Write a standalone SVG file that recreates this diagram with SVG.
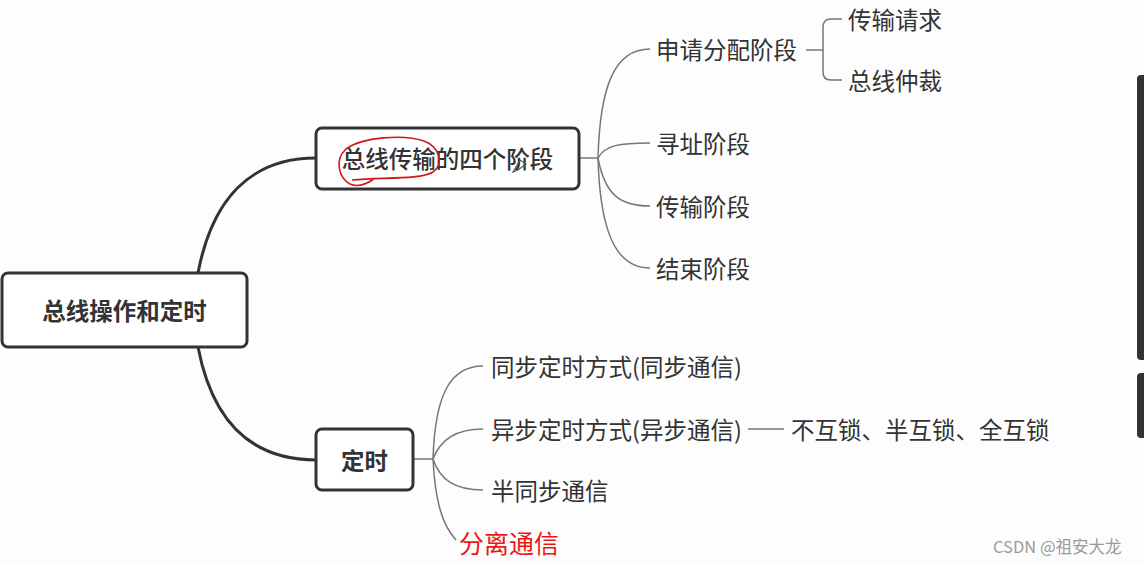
<svg xmlns="http://www.w3.org/2000/svg" width="1144" height="564" viewBox="0 0 1144 564">
  <style>
    .box { fill: #ffffff; stroke: #333333; stroke-width: 3; }
    .main { fill: none; stroke: #333333; stroke-width: 3; }
    .thin { fill: none; stroke: #777777; stroke-width: 1.5; }
    .bt { font-family: "Noto Sans CJK SC", "Noto Sans", sans-serif; font-size: 23.5px; font-weight: bold; fill: #333333; }
    .mt { font-family: "Noto Sans CJK SC", "Noto Sans", sans-serif; font-size: 23.5px; font-weight: 500; fill: #333333; }
    .ct { font-family: "Noto Sans CJK SC", "Noto Sans", sans-serif; font-size: 23.5px; fill: #333333; }
    .red { font-family: "Noto Sans CJK SC", "Noto Sans", sans-serif; font-size: 25px; fill: #f01414; }
    .wm { font-family: "Noto Sans CJK SC", "Noto Sans", sans-serif; font-size: 16.5px; fill: #9a9a9a; }
  </style>
  <rect x="0" y="0" width="1144" height="564" fill="#fdfdfd"/>

  <g id="connectors">
    <path class="main" d="M198,273 C212,200 250,158 316,158"/>
    <path class="main" d="M198,347 C212,420 250,460 316,460"/>
    <line class="thin" x1="579" y1="158" x2="598" y2="158"/>
    <path class="thin" d="M598,158 C600,85 615,49 650,49"/>
    <path class="thin" d="M598,158 C605,145 620,143 650,143"/>
    <path class="thin" d="M598,158 C605,195 620,206 650,206"/>
    <path class="thin" d="M598,158 C600,230 615,268 650,268"/>
    <line class="thin" x1="806" y1="50" x2="823" y2="50"/>
    <path class="thin" d="M842,19 L831,19 Q823,19 823,27 L823,72 Q823,80 831,80 L842,80"/>
    <line class="thin" x1="413" y1="459" x2="433" y2="459"/>
    <path class="thin" d="M433,459 C435,395 450,366 483,366"/>
    <path class="thin" d="M433,459 C440,440 455,429 483,429"/>
    <path class="thin" d="M433,459 C440,480 455,490 483,490"/>
    <path class="thin" d="M433,459 C435,500 442,525 456,540"/>
    <line class="thin" x1="748" y1="429" x2="784" y2="429"/>
  </g>

  <g id="root">
    <rect class="box" x="2" y="273" width="245" height="74" rx="6"/>
    <text class="bt" x="124.5" y="310" text-anchor="middle" dominant-baseline="central">总线操作和定时</text>
  </g>

  <g id="stages">
    <rect class="box" x="316" y="128" width="263" height="61" rx="6"/>
    <text class="mt" x="447.5" y="158" text-anchor="middle" dominant-baseline="central">总线传输的四个阶段</text>
  </g>

  <g id="timing">
    <rect class="box" x="316" y="429" width="97" height="61" rx="6"/>
    <text class="bt" x="364.5" y="460" text-anchor="middle" dominant-baseline="central">定时</text>
  </g>

  <g id="apply"><text class="ct" x="656" y="49" dominant-baseline="central">申请分配阶段</text></g>
  <g id="request"><text class="ct" x="848" y="19" dominant-baseline="central">传输请求</text></g>
  <g id="arbitration"><text class="ct" x="848" y="80" dominant-baseline="central">总线仲裁</text></g>
  <g id="address"><text class="ct" x="656" y="143" dominant-baseline="central">寻址阶段</text></g>
  <g id="transfer"><text class="ct" x="656" y="206" dominant-baseline="central">传输阶段</text></g>
  <g id="end"><text class="ct" x="656" y="268" dominant-baseline="central">结束阶段</text></g>

  <g id="sync"><text class="ct" x="491" y="366" dominant-baseline="central">同步定时方式(同步通信)</text></g>
  <g id="async"><text class="ct" x="491" y="429" dominant-baseline="central">异步定时方式(异步通信)</text></g>
  <g id="interlock"><text class="ct" x="791" y="429" dominant-baseline="central">不互锁、半互锁、全互锁</text></g>
  <g id="semisync"><text class="ct" x="491" y="490" dominant-baseline="central">半同步通信</text></g>
  <g id="split"><text class="red" x="459" y="542" dominant-baseline="central">分离通信</text></g>

  <g id="annotation">
    <path d="M352,180 C382,177 420,180 433,172 C444,164 440,147 424,141 C404,134 362,137 346,149 C334,160 339,178 350,184 C358,188 368,183 374,179" fill="none" stroke="#d01818" stroke-width="1.6"/>
    <path d="M513,172 L520,160 L526,164 L518,170 Z" fill="none" stroke="#555555" stroke-width="1.2"/>
  </g>

  <g id="scrollbar">
    <rect x="1137" y="75" width="10" height="285" rx="4" fill="#333333"/>
    <rect x="1137" y="373" width="10" height="65" rx="4" fill="#333333"/>
  </g>

  <text class="wm" x="993" y="546" dominant-baseline="central">CSDN @祖安大龙</text>
</svg>
